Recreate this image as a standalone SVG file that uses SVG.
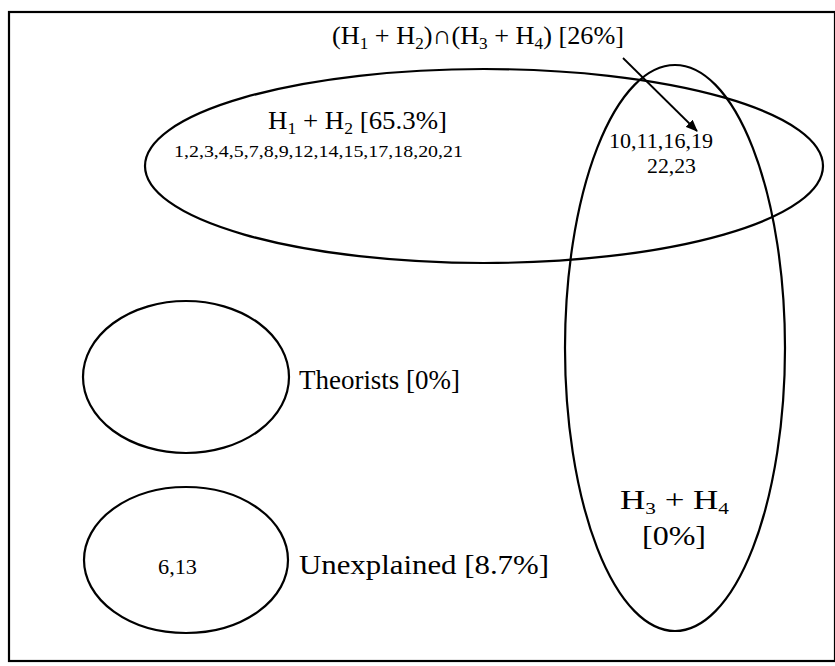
<svg xmlns="http://www.w3.org/2000/svg" width="835" height="666" viewBox="0 0 835 666">
<defs>
<style>
.s{fill:none;stroke:#000;stroke-width:2.2}
.t{font-family:"Liberation Serif","Times New Roman",serif;fill:#000}
.L{font-size:26px}
.M{font-size:20px}
.sub{font-size:17px}
</style>
<marker id="ah" viewBox="0 0 12 10" refX="11" refY="5" markerWidth="12" markerHeight="10" markerUnits="userSpaceOnUse" orient="auto">
<path d="M0,0 L12,5 L0,10 Z" fill="#000"/>
</marker>
</defs>
<rect x="0" y="0" width="835" height="666" fill="#fff"/>
<rect x="9" y="12" width="826" height="649" class="s"/>
<g id="h12">
<ellipse cx="484" cy="166" rx="339" ry="97" class="s"/>
<text class="t L" x="268" y="129" textLength="179" lengthAdjust="spacingAndGlyphs">H<tspan class="sub" dy="5">1</tspan><tspan dy="-5"> + H</tspan><tspan class="sub" dy="5">2</tspan><tspan dy="-5"> [65.3%]</tspan></text>
<text class="t" x="174" y="157" font-size="16" textLength="289" lengthAdjust="spacingAndGlyphs">1,2,3,4,5,7,8,9,12,14,15,17,18,20,21</text>
</g>
<g id="h34">
<ellipse cx="675" cy="348" rx="110" ry="283" class="s"/>
<text class="t" font-size="28" x="620" y="509" textLength="109" lengthAdjust="spacingAndGlyphs">H<tspan class="sub" dy="5">3</tspan><tspan dy="-5"> + H</tspan><tspan class="sub" dy="5">4</tspan></text>
<text class="t" font-size="28" x="642" y="545" textLength="64" lengthAdjust="spacingAndGlyphs">[0%]</text>
</g>
<g id="intersection">
<text class="t L" x="332" y="44" textLength="292" lengthAdjust="spacingAndGlyphs">(H<tspan class="sub" dy="5">1</tspan><tspan dy="-5"> + H</tspan><tspan class="sub" dy="5">2</tspan><tspan dy="-5">)∩(H</tspan><tspan class="sub" dy="5">3</tspan><tspan dy="-5"> + H</tspan><tspan class="sub" dy="5">4</tspan><tspan dy="-5">) [26%]</tspan></text>
<text class="t M" x="609" y="148" textLength="104" lengthAdjust="spacingAndGlyphs">10,11,16,19</text>
<text class="t M" x="647" y="173" textLength="49" lengthAdjust="spacingAndGlyphs">22,23</text>
</g>
<g id="theorists">
<ellipse cx="186" cy="377" rx="103" ry="76" class="s"/>
<text class="t" font-size="27" x="299" y="389" textLength="161" lengthAdjust="spacingAndGlyphs">Theorists [0%]</text>
</g>
<g id="unexplained">
<ellipse cx="186" cy="560" rx="102" ry="73" class="s"/>
<text class="t M" x="158" y="574" textLength="39" lengthAdjust="spacingAndGlyphs">6,13</text>
<text class="t" font-size="28" x="299" y="574" textLength="250" lengthAdjust="spacingAndGlyphs">Unexplained [8.7%]</text>
</g>
<g id="connectors">
<line x1="623" y1="58" x2="697" y2="131" stroke="#000" stroke-width="1.8" marker-end="url(#ah)"/>
</g>
</svg>
